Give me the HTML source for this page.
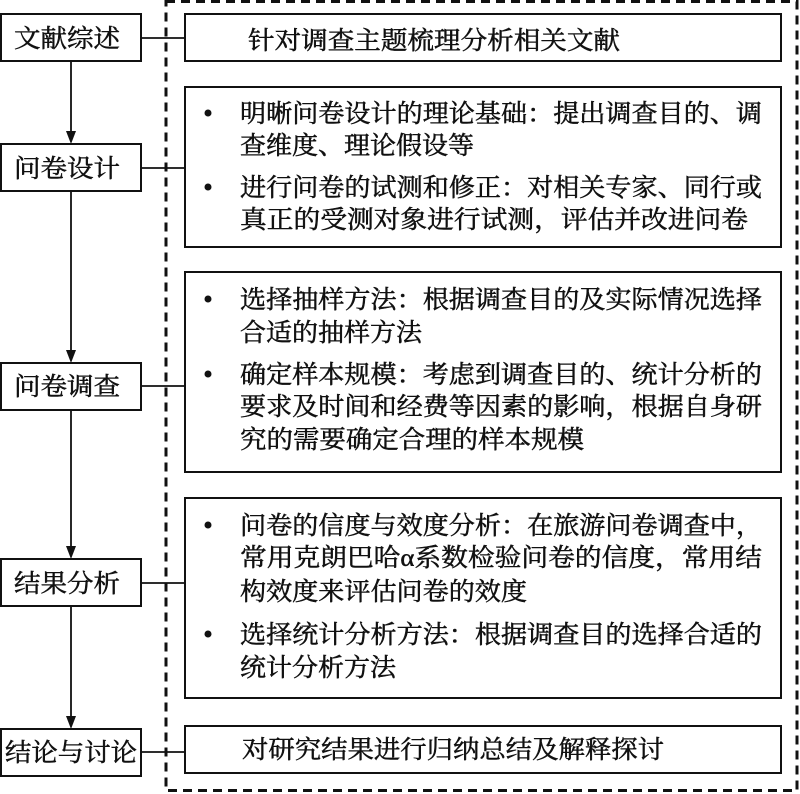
<!DOCTYPE html>
<html><head><meta charset="utf-8"><style>
html,body{margin:0;padding:0;background:#fff;}
svg{display:block}
text{font-family:"Liberation Serif","Noto Serif CJK SC",serif;font-size:25px;fill:#111;stroke:#111;stroke-width:0.5;}
</style></head><body>
<svg width="800" height="794" viewBox="0 0 800 794" xmlns="http://www.w3.org/2000/svg">
<g fill="none" stroke="#111">
<rect x="166" y="1.5" width="631" height="789" stroke-width="3" stroke-dasharray="9,6"/>
<g stroke-width="2">
<rect x="1" y="14" width="140" height="47"/>
<rect x="1" y="144" width="140" height="47"/>
<rect x="1" y="363" width="140" height="47"/>
<rect x="1" y="559" width="140" height="47"/>
<rect x="1" y="729" width="140" height="47"/>
<rect x="185" y="14" width="596" height="47"/>
<rect x="185" y="87" width="596" height="160"/>
<rect x="185" y="272" width="596" height="200"/>
<rect x="185" y="498" width="596" height="200"/>
<rect x="185" y="726" width="596" height="47"/>
</g>
<g stroke-width="1.8">
<line x1="141" y1="38" x2="185" y2="38"/>
<line x1="141" y1="168" x2="185" y2="168"/>
<line x1="141" y1="386" x2="185" y2="386"/>
<line x1="141" y1="583" x2="185" y2="583"/>
<line x1="141" y1="752" x2="185" y2="752"/>
<line x1="71" y1="61" x2="71" y2="134"/>
<line x1="71" y1="191" x2="71" y2="353"/>
<line x1="71" y1="410" x2="71" y2="549"/>
<line x1="71" y1="606" x2="71" y2="719"/>
</g>
</g>
<g fill="#111">
<path d="M66,131 L76,131 L71,144 Z"/>
<path d="M66,350 L76,350 L71,363 Z"/>
<path d="M66,546 L76,546 L71,559 Z"/>
<path d="M66,716 L76,716 L71,729 Z"/>
<circle cx="208" cy="113" r="3.5"/><circle cx="208" cy="187" r="3.5"/>
<circle cx="208" cy="299" r="3.5"/><circle cx="208" cy="374" r="3.5"/>
<circle cx="208" cy="525" r="3.5"/><circle cx="208" cy="634" r="3.5"/>
</g>
<text x="14" y="47" textLength="106" lengthAdjust="spacingAndGlyphs">文献综述</text>
<text x="14" y="177" textLength="106" lengthAdjust="spacingAndGlyphs">问卷设计</text>
<text x="14" y="395" textLength="106" lengthAdjust="spacingAndGlyphs">问卷调查</text>
<text x="14" y="592" textLength="106" lengthAdjust="spacingAndGlyphs">结果分析</text>
<text x="5" y="761" textLength="132" lengthAdjust="spacingAndGlyphs">结论与讨论</text>
<text x="248" y="49" textLength="372" lengthAdjust="spacingAndGlyphs">针对调查主题梳理分析相关文献</text>
<text x="240" y="122" textLength="522" lengthAdjust="spacingAndGlyphs">明晰问卷设计的理论基础：提出调查目的、调</text>
<text x="240" y="154" textLength="234" lengthAdjust="spacingAndGlyphs">查维度、理论假设等</text>
<text x="240" y="196" textLength="522" lengthAdjust="spacingAndGlyphs">进行问卷的试测和修正：对相关专家、同行或</text>
<text x="240" y="228" textLength="508" lengthAdjust="spacingAndGlyphs">真正的受测对象进行试测，评估并改进问卷</text>
<text x="240" y="308" textLength="522" lengthAdjust="spacingAndGlyphs">选择抽样方法：根据调查目的及实际情况选择</text>
<text x="240" y="341" textLength="182" lengthAdjust="spacingAndGlyphs">合适的抽样方法</text>
<text x="240" y="383" textLength="522" lengthAdjust="spacingAndGlyphs">确定样本规模：考虑到调查目的、统计分析的</text>
<text x="240" y="415" textLength="522" lengthAdjust="spacingAndGlyphs">要求及时间和经费等因素的影响，根据自身研</text>
<text x="240" y="448" textLength="344" lengthAdjust="spacingAndGlyphs">究的需要确定合理的样本规模</text>
<text x="240" y="534" textLength="522" lengthAdjust="spacingAndGlyphs">问卷的信度与效度分析：在旅游问卷调查中，</text>
<text x="240" y="566" textLength="522" lengthAdjust="spacingAndGlyphs">常用克朗巴哈α系数检验问卷的信度，常用结</text>
<text x="240" y="600" textLength="287" lengthAdjust="spacingAndGlyphs">构效度来评估问卷的效度</text>
<text x="240" y="643" textLength="522" lengthAdjust="spacingAndGlyphs">选择统计分析方法：根据调查目的选择合适的</text>
<text x="240" y="676" textLength="156" lengthAdjust="spacingAndGlyphs">统计分析方法</text>
<text x="242" y="758" textLength="422" lengthAdjust="spacingAndGlyphs">对研究结果进行归纳总结及解释探讨</text>
</svg>
</body></html>
